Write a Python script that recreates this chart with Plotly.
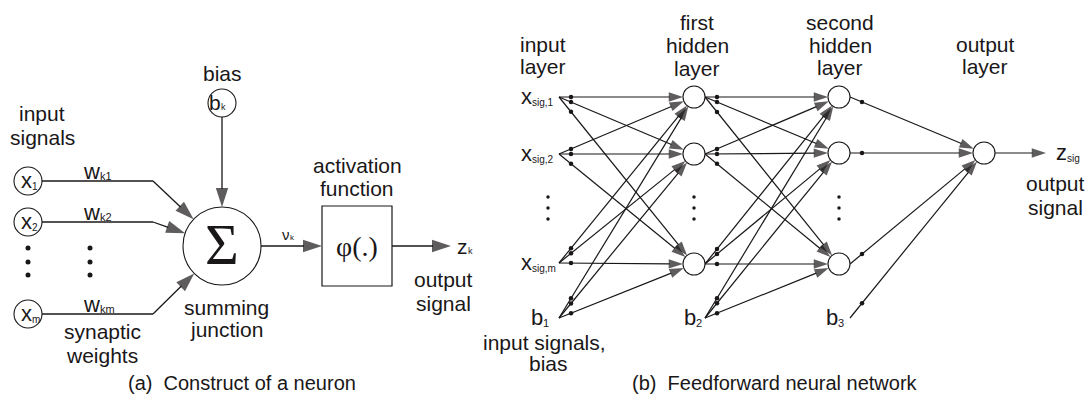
import math
import plotly.graph_objects as go

W, H = 1085, 410
INK = "#1a1718"
SANS = "Liberation Sans, Arial, Helvetica, sans-serif"
SERIF = "Liberation Serif, Times New Roman, serif"

# ---------------- (a) Construct of a neuron ----------------
a_input_subs = ["1", "2", "m"]
a_input_y = [181, 222, 314]
a_input_x = 28
a_input_r = 14
a_weight_subs = ["k1", "k2", "km"]
a_bend_x = 153
a_dots_y = [248, 262, 275]
a_dots_x = [28, 90]
sigma_xy = [222, 246]
sigma_r = 39
bias_xy = [222, 103]
bias_r = 14
box_xy = [322, 206, 392, 286]
zk_end_x = 451
a_texts = [
    ("input", 42, 113), ("signals", 42, 137), ("bias", 222, 73),
    ("activation", 357, 165), ("function", 357, 188),
    ("summing", 226, 307), ("junction", 226, 329),
    ("synaptic", 102, 331), ("weights", 102, 355),
    ("output", 443, 279), ("signal", 443, 303),
]
caption_a = ("(a)  Construct of a neuron", 242, 383)

# ---------------- (b) Feedforward neural network ----------------
layer_x = [559, 694, 839, 984]
layer_node_y = [[97, 154, 263], [97, 154, 264], [97, 153, 264], [153]]
bias_y = 318
node_r = 11
input_subs_b = ["sig,1", "sig,2", "sig,m"]
bias_subs_b = ["1", "2", "3"]
bias_label_x = [543, 696, 838]
b_dots_y = [197, 208, 219]
b_dots_x = [548, 694, 839]
dot_dx = 12
out_end_x = 1046
b_texts = [
    ("input", 543, 44), ("layer", 543, 66),
    ("first", 697, 22), ("hidden", 697, 45), ("layer", 697, 68),
    ("second", 840, 22), ("hidden", 840, 45), ("layer", 840, 67),
    ("output", 985, 44), ("layer", 985, 66),
    ("input signals,", 544, 342), ("bias", 548, 363),
    ("output", 1055, 183), ("signal", 1055, 207),
]
caption_b = ("(b)  Feedforward neural network", 775, 383)

fig = go.Figure()
shapes = []
ann = []
arrows_a = []
arrows_b = []


def circle(cx, cy, r):
    shapes.append(dict(type="circle", xref="x", yref="y", x0=cx - r, x1=cx + r,
                       y0=cy - r, y1=cy + r, line=dict(color=INK, width=1.1),
                       fillcolor="white", layer="above"))


def toward(sx, sy, cx, cy, r):
    d = math.hypot(cx - sx, cy - sy)
    return cx - (cx - sx) * r / d, cy - (cy - sy) * r / d


def label(text, x, y, size=21, anchor="center", font=SANS):
    ann.append(dict(x=x, y=y, xref="x", yref="y", text=text, showarrow=False,
                    xanchor=anchor, yanchor="middle", borderpad=0,
                    font=dict(family=font, size=size, color=INK)))


def sublabel(base, s, jx, y, bsize=21, ssize=11, dy=5):
    # base glyph ends at jx, subscript starts at jx
    label(base, jx + 1, y, size=bsize, anchor="right")
    label(s, jx - 1, y + dy, size=ssize, anchor="left")


def add_arrows(lst, width, head):
    xs, ys, sizes = [], [], []
    for sx, sy, tx, ty in lst:
        xs += [sx, tx, None]
        ys += [sy, ty, None]
        sizes += [0, head, 0]
    fig.add_trace(go.Scatter(
        x=xs, y=ys, mode="lines+markers", line=dict(color=INK, width=width),
        marker=dict(symbol="arrow", size=sizes, color=INK, angleref="previous",
                    line=dict(width=0)),
        hoverinfo="skip"))


# ---- (a) ----
for s, y, w in zip(a_input_subs, a_input_y, a_weight_subs):
    circle(a_input_x, y, a_input_r)
    sublabel("x", s, a_input_x + 4, y - 1, bsize=22, ssize=10, dy=6)
    fig.add_trace(go.Scatter(x=[a_input_x + a_input_r, a_bend_x], y=[y, y], mode="lines",
                             line=dict(color=INK, width=1.3), hoverinfo="skip"))
    tx, ty = toward(a_bend_x, y, sigma_xy[0], sigma_xy[1], sigma_r)
    arrows_a.append((a_bend_x, y, tx, ty))
    sublabel("w", w, 100, y - 10, bsize=22, ssize=11, dy=5)

for dx in a_dots_x:
    fig.add_trace(go.Scatter(x=[dx] * len(a_dots_y), y=a_dots_y, mode="markers",
                             marker=dict(color=INK, size=5), hoverinfo="skip"))

circle(sigma_xy[0], sigma_xy[1], sigma_r)
label("\u03a3", sigma_xy[0], sigma_xy[1] - 2, size=58, font=SERIF)
circle(bias_xy[0], bias_xy[1], bias_r)
sublabel("b", "k", bias_xy[0] - 1, bias_xy[1] - 1, bsize=21, ssize=9, dy=5)
arrows_a.append((bias_xy[0], bias_xy[1] + bias_r, sigma_xy[0], sigma_xy[1] - sigma_r))

shapes.append(dict(type="rect", xref="x", yref="y", x0=box_xy[0], y0=box_xy[1],
                   x1=box_xy[2], y1=box_xy[3], line=dict(color=INK, width=1.2),
                   fillcolor="white", layer="above"))
label("\u03c6(.)", (box_xy[0] + box_xy[2]) / 2, sigma_xy[1], size=28, font=SERIF)
arrows_a.append((sigma_xy[0] + sigma_r, sigma_xy[1], box_xy[0], sigma_xy[1]))
sublabel("\u03bd", "k", 290, 234, bsize=15, ssize=8, dy=3)
arrows_a.append((box_xy[2], sigma_xy[1], zk_end_x, sigma_xy[1]))
sublabel("z", "k", 468, 246, bsize=21, ssize=9, dy=5)

add_arrows(arrows_a, 1.3, 20)

for t, x, y in a_texts:
    label(t, x, y)
label(*caption_a, size=20)

# ---- (b) ----
for li in range(3):
    xs = layer_x[li] if li == 0 else layer_x[li] + node_r
    srcs = [(xs, y) for y in layer_node_y[li]] + [(xs, bias_y)]
    tx = layer_x[li + 1]
    dots_x, dots_y = [], []
    if li < 2:
        pairs = [(s, (tx, ty)) for s in srcs for ty in layer_node_y[li + 1]]
    else:
        pairs = [(s, (tx, layer_node_y[3][0])) for s in srcs]
    for (sx, sy), (px, py) in pairs:
        ex, ey = toward(sx, sy, px, py, node_r)
        arrows_b.append((sx, sy, ex, ey))
        dots_x.append(sx + dot_dx)
        dots_y.append(sy + (py - sy) * dot_dx / (px - sx))
    fig.add_trace(go.Scatter(x=dots_x, y=dots_y, mode="markers",
                             marker=dict(color=INK, size=4.5), hoverinfo="skip"))

oy = layer_node_y[3][0]
arrows_b.append((layer_x[3] + node_r, oy, out_end_x, oy))
add_arrows(arrows_b, 1.2, 15)

for li in range(1, 4):
    for y in layer_node_y[li]:
        circle(layer_x[li], y, node_r)

for dx in b_dots_x:
    fig.add_trace(go.Scatter(x=[dx] * len(b_dots_y), y=b_dots_y, mode="markers",
                             marker=dict(color=INK, size=3.5), hoverinfo="skip"))

for s, y in zip(input_subs_b, layer_node_y[0]):
    sublabel("x", s, 532, y - 1, bsize=22, ssize=10, dy=6)
for s, bx in zip(bias_subs_b, bias_label_x):
    sublabel("b", s, bx, bias_y - 1, bsize=22, ssize=11, dy=6)

sublabel("z", "sig", 1067, oy - 1, bsize=22, ssize=10, dy=6)

for t, x, y in b_texts:
    label(t, x, y)
label(*caption_b, size=20)

fig.update_layout(
    width=W, height=H, margin=dict(l=0, r=0, t=0, b=0),
    paper_bgcolor="white", plot_bgcolor="white", showlegend=False,
    xaxis=dict(range=[0, W], visible=False, fixedrange=True),
    yaxis=dict(range=[H, 0], visible=False, fixedrange=True),
    shapes=shapes, annotations=ann,
)
fig.write_html("out.html", config={"displayModeBar": False},
               post_script="document.body.style.margin='0';")
